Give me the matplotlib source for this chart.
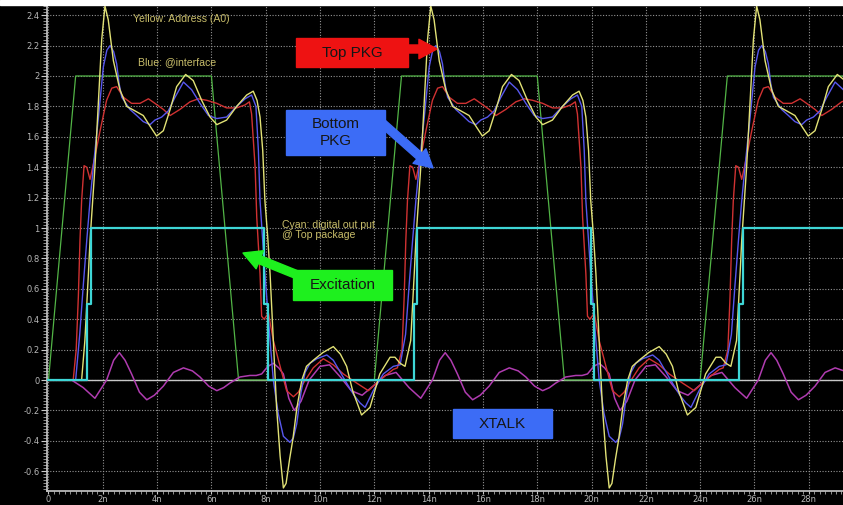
import numpy as np
import matplotlib.pyplot as plt
from matplotlib.patches import Rectangle, FancyArrowPatch, ArrowStyle
from matplotlib.ticker import MultipleLocator, FuncFormatter

PERIOD = 12.0   # ns between address transitions

# excitation (green) - trapezoid source
exc_t = [0, 1, 6, 7, 12, 13, 18, 19, 24, 25, 29.3]
exc_v = [0, 2, 2, 0, 0, 2, 2, 0, 0, 2, 2]

# digital output at top package (cyan), step edges
dout_t = [0, 1.42, 1.55, 7.92, 8.07, 13.45, 13.56, 19.98, 20.10, 25.42, 25.56, 29.3]
dout_v = [0, 0.5, 1, 0.5, 0, 0.5, 1, 0.5, 0, 0.5, 1, 1]

# address A0 (yellow), one cycle after the rising edge
addr_rise = 1.22
addr_t = [1.34, 1.47, 1.53, 1.71, 1.84, 1.96, 2.08, 2.20, 2.39, 2.63, 2.88, 3.19,
          3.49, 3.74, 3.98, 4.23, 4.48, 4.72, 5.05, 5.33, 5.64, 5.95, 6.20, 6.56,
          6.93, 7.30, 7.54, 7.68, 7.79, 7.89, 7.97, 8.07, 8.16, 8.28, 8.40, 8.53,
          8.65, 8.75, 8.88, 9.00, 9.15, 9.33, 9.50, 9.75, 10.10, 10.49, 10.75, 10.98,
          11.20, 11.53, 11.84, 12.20, 12.58, 12.76, 12.95, 13.13]
addr_v = [0.26, 0.70, 0.92, 1.40, 1.84, 2.24, 2.46, 2.37, 2.10, 1.91, 1.80, 1.77,
          1.74, 1.67, 1.605, 1.64, 1.78, 1.93, 2.01, 1.97, 1.84, 1.73, 1.68, 1.71,
          1.80, 1.875, 1.90, 1.84, 1.73, 1.51, 1.18, 0.95, 0.70, 0.26, -0.18, -0.50,
          -0.71, -0.68, -0.52, -0.39, -0.18, 0.0, 0.09, 0.13, 0.18, 0.22, 0.17, 0.09,
          -0.07, -0.23, -0.18, 0.04, 0.15, 0.15, 0.11, 0.09]

# interface node (blue)
intf_rise = 1.0
intf_t = [1.15, 1.28, 1.41, 1.53, 1.65, 1.84, 2.02, 2.15, 2.27, 2.40, 2.51, 2.60,
          2.70, 3.00, 3.25, 3.49, 3.74, 3.92, 4.17, 4.41, 4.66, 4.97, 5.27, 5.58,
          5.89, 6.20, 6.56, 6.93, 7.24, 7.48, 7.64, 7.73, 7.79, 7.97, 8.16, 8.28,
          8.46, 8.65, 8.89, 9.02, 9.14, 9.30, 9.45, 9.63, 9.88, 10.25, 10.49, 10.75,
          10.98, 11.25, 11.47, 11.66, 11.96, 12.33, 12.70, 12.95]
intf_v = [0.30, 0.62, 0.92, 1.18, 1.40, 1.73, 2.06, 2.17, 2.20, 2.16, 2.08, 1.95,
          1.86, 1.78, 1.74, 1.70, 1.68, 1.71, 1.73, 1.77, 1.86, 1.96, 1.91, 1.82,
          1.74, 1.72, 1.73, 1.80, 1.85, 1.875, 1.80, 1.51, 1.18, 0.70, 0.26, 0.0,
          -0.22, -0.37, -0.41, -0.38, -0.29, -0.08, 0.05, 0.11, 0.14, 0.165, 0.13, 0.05,
          -0.02, -0.10, -0.15, -0.18, -0.07, 0.04, 0.09, 0.10]

# bottom package pin (red)
bot_rise = 0.91
bot_t = [1.02, 1.10, 1.16, 1.22, 1.31, 1.41, 1.53, 1.71, 1.90, 2.14, 2.33, 2.51,
         2.76, 3.06, 3.37, 3.68, 3.92, 4.23, 4.48, 4.84, 5.21, 5.52, 5.83, 6.20,
         6.56, 6.93, 7.24, 7.40, 7.48, 7.61, 7.67, 7.79, 7.85, 7.94, 8.10, 8.28,
         8.53, 8.77, 9.02, 9.20, 9.39, 9.75, 10.12, 10.49, 10.86, 11.35, 11.78, 12.21,
         12.70, 12.85]
bot_v = [0.20, 0.55, 0.92, 1.18, 1.41, 1.40, 1.32, 1.47, 1.64, 1.84, 1.92, 1.93,
         1.86, 1.82, 1.82, 1.85, 1.82, 1.78, 1.74, 1.78, 1.83, 1.85, 1.84, 1.82,
         1.79, 1.79, 1.81, 1.83, 1.75, 1.40, 1.07, 0.70, 0.42, 0.40, 0.44, 0.26,
         0.09, -0.07, -0.11, -0.08, -0.02, 0.08, 0.14, 0.10, 0.04, -0.02, -0.07, 0.0,
         0.07, 0.08]

# crosstalk on the quiet line (magenta)
xt_rise = 0.85
xt_t = [1.28, 1.71, 2.14, 2.40, 2.61, 2.82, 3.06, 3.35, 3.62, 3.90, 4.23, 4.60,
        4.97, 5.30, 5.58, 5.90, 6.20, 6.45, 6.68, 7.05, 7.42, 7.65, 7.85, 8.08,
        8.28, 8.48, 8.65, 8.85, 9.05, 9.30, 9.60, 10.00, 10.35, 10.75, 11.15, 11.55,
        11.95, 12.40, 12.80]
xt_v = [-0.05, -0.12, 0.0, 0.13, 0.18, 0.13, 0.04, -0.08, -0.13, -0.10, -0.04, 0.05,
        0.08, 0.06, 0.02, -0.04, -0.07, -0.05, -0.02, 0.02, 0.03, 0.03, 0.04, 0.09,
        0.11, 0.08, 0.04, -0.12, -0.20, -0.14, 0.0, 0.09, 0.10, 0.02, -0.07, -0.10,
        -0.04, 0.03, 0.05]

x_ticks = list(range(0, 29, 2))
x_labels = ['0'] + ['%dn' % t for t in x_ticks[1:]]


def repeat_cycle(rise, t, v, n=3):
    # flat start, then the same measured cycle every PERIOD
    tt = [0.0, rise]
    vv = [0.0, 0.0]
    for k in range(n):
        tt += [x + k * PERIOD for x in t]
        vv += list(v)
    return np.array(tt), np.array(vv)


def ylab(v, pos):
    if abs(v) < 1e-9:
        return '0'
    return ('%.1f' % v).rstrip('0').rstrip('.')


W, H = 843, 505


def fxy(px, py):
    return px / W, 1 - py / H


fig = plt.figure(figsize=(W / 100, H / 100), dpi=100, facecolor='black')
ax = fig.add_axes([47 / W, 14 / H, 796 / W, 486 / H], facecolor='black')
fig.add_artist(Rectangle((0, 1 - 5 / H), 1, 5 / H, transform=fig.transFigure,
                         color='white', zorder=10))

ax.set_xlim(-0.055, 29.26)
ax.set_ylim(-0.73, 2.467)

ax.xaxis.set_minor_locator(MultipleLocator(0.2))
ax.yaxis.set_major_locator(MultipleLocator(0.2))
ax.yaxis.set_minor_locator(MultipleLocator(0.02))
ax.set_xticks(x_ticks)
ax.set_xticklabels(x_labels)
ax.yaxis.set_major_formatter(FuncFormatter(ylab))

ax.grid(True, which='major', color='#949494', linestyle=(0, (1, 1.5)), linewidth=0.8)
for s in ['top', 'right']:
    ax.spines[s].set_visible(False)
for s in ['left', 'bottom']:
    ax.spines[s].set_color('#c8c8c8')
    ax.spines[s].set_linewidth(1.2)
ax.tick_params(which='major', length=4.5, width=0.8, color='#c8c8c8', pad=1,
               labelsize=6, labelcolor='#b8b8b8')
ax.tick_params(axis='x', which='major', length=2.5, pad=0.5)
ax.tick_params(which='minor', length=2.8, width=0.6, color='#a8a8a8')
ax.tick_params(axis='x', which='minor', length=2.0)
for lab in ax.get_xticklabels() + ax.get_yticklabels():
    lab.set_family('DejaVu Sans')

ax.axhline(0, color='#c8c8c8', linewidth=1.0, zorder=2)

ax.plot(exc_t, exc_v, color='#52b446', linewidth=0.9, zorder=3)
t, v = repeat_cycle(xt_rise, xt_t, xt_v)
ax.plot(t, v, color='#b03cb0', linewidth=1.1, zorder=3)
t, v = repeat_cycle(bot_rise, bot_t, bot_v)
ax.plot(t, v, color='#d03232', linewidth=1.0, zorder=4)
t, v = repeat_cycle(intf_rise, intf_t, intf_v)
ax.plot(t, v, color='#5858ee', linewidth=1.0, zorder=4)
t, v = repeat_cycle(addr_rise, addr_t, addr_v)
ax.plot(t, v, color='#e2e276', linewidth=1.0, zorder=5)
ax.plot(dout_t, dout_v, drawstyle='steps-post', color='#3ed6d6', linewidth=1.6, zorder=6)

# signal notes
note = dict(fontsize=7.6, family='Liberation Sans', color='#c8bd6a', zorder=8)
fig.text(*fxy(181, 19), 'Yellow: Address (A0)', ha='center', va='center', **note)
fig.text(*fxy(177, 62), 'Blue: @interface', ha='center', va='center', **note)
fig.text(*fxy(282, 230), 'Cyan: digital out put\n@ Top package', ha='left', va='center',
         linespacing=0.95, **note)

# labelled boxes with arrows
boxes = [
    ('Top PKG', (296, 38, 408, 67), '#ee1212', ((400, 49), (437, 49))),
    ('Bottom\nPKG', (286, 110, 385, 155), '#3c6cf6', ((380, 121), (433, 168))),
    ('Excitation', (293, 270, 392, 300), '#1ef01e', ((300, 276), (243, 253))),
    ('XTALK', (453, 409, 552, 438), '#3c6cf6', None),
]
for label, (x0, y0, x1, y1), col, arrow in boxes:
    fig.add_artist(Rectangle(fxy(x0, y1), (x1 - x0) / W, (y1 - y0) / H,
                             transform=fig.transFigure, color=col, zorder=7))
    fig.text(*fxy((x0 + x1) / 2, (y0 + y1) / 2), label, ha='center', va='center',
             fontsize=11, family='Liberation Sans', color='#161616',
             linespacing=1.35, zorder=9)
    if arrow is not None:
        fig.add_artist(FancyArrowPatch(fxy(*arrow[0]), fxy(*arrow[1]),
                                       transform=fig.transFigure,
                                       arrowstyle=ArrowStyle.Simple(head_length=1.3, head_width=1.4,
                                                                    tail_width=0.58),
                                       mutation_scale=10, color=col, shrinkA=0, shrinkB=0,
                                       zorder=7))

fig.savefig('out.png', dpi=100, facecolor='black')
